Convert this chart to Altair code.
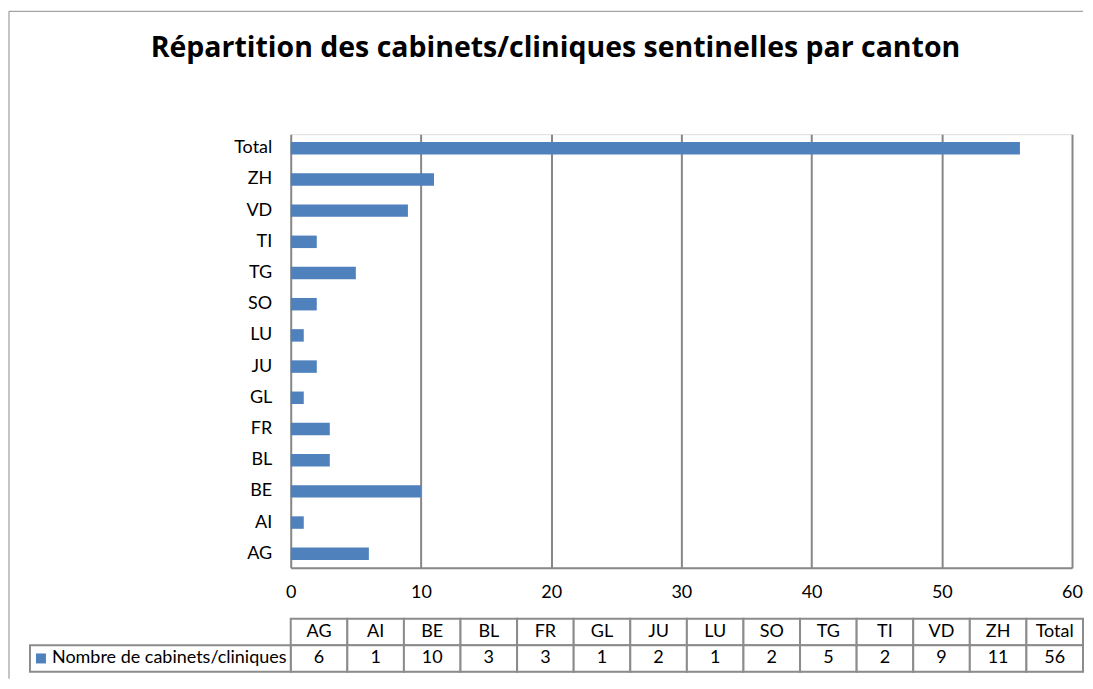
import altair as alt
import pandas as pd

# ---- data ----
cantons = ["AG", "AI", "BE", "BL", "FR", "GL", "JU", "LU", "SO", "TG", "TI", "VD", "ZH", "Total"]
values = [6, 1, 10, 3, 3, 1, 2, 1, 2, 5, 2, 9, 11, 56]
series_name = "Nombre de cabinets/cliniques"
title_text = "Répartition des cabinets/cliniques sentinelles par canton"
x_ticks = [0, 10, 20, 30, 40, 50, 60]

FONT = "Lato"
TFONT = "Open Sans"
GRID = "#878787"
BORDER = "#8c8c8c"
BLUE = "#4F81BD"
W, H = 782, 434
TW, TH = 793, 53
FS = 18

df = pd.DataFrame({"canton": cantons, "value": values})

# ---- main bar chart ----
bars = alt.Chart(df).mark_bar(color=BLUE).encode(
    x=alt.X("value:Q",
            scale=alt.Scale(domain=[0, 60], nice=False),
            axis=alt.Axis(values=x_ticks, title=None, grid=True, gridColor=GRID,
                          gridWidth=2, domainColor=GRID, domainWidth=2, ticks=False,
                          labelPadding=16, labelFontSize=FS, labelFont=FONT,
                          labelColor="#000000", labelFlush=False)),
    y=alt.Y("canton:N", sort=cantons[::-1],
            scale=alt.Scale(paddingInner=0.6, paddingOuter=0.25),
            axis=alt.Axis(title=None, ticks=False, domain=False, labelPadding=19,
                          labelFontSize=FS, labelFont=FONT, labelColor="#000000")),
    tooltip=["canton", "value"],
)

title_df = pd.DataFrame({"t": [title_text]})
title = alt.Chart(title_df).mark_text(
    font=TFONT, fontSize=28.5, fontWeight="bold", align="center",
    baseline="alphabetic", color="#000000"
).encode(x=alt.value(265), y=alt.value(-77), text="t:N")

frame_df = pd.DataFrame({"k": [0]})
top_border = alt.Chart(frame_df).mark_rule(color=BORDER, strokeWidth=1).encode(
    x=alt.value(-282), x2=alt.value(793), y=alt.value(-123), y2=alt.value(-123))
left_border = alt.Chart(frame_df).mark_rule(color=BORDER, strokeWidth=1).encode(
    x=alt.value(-282), x2=alt.value(-282), y=alt.value(-123), y2=alt.value(545))

top = alt.layer(bars, title, top_border, left_border).properties(width=W, height=H)

# ---- data table ----
rows = []
for c, v in zip(cantons, values):
    rows.append({"canton": c, "row": "h", "txt": c})
    rows.append({"canton": c, "row": "v", "txt": str(v)})
tdf = pd.DataFrame(rows)

xs = alt.X("canton:N", sort=cantons, scale=alt.Scale(paddingInner=0, paddingOuter=0), axis=None)
ys = alt.Y("row:N", sort=["h", "v"], scale=alt.Scale(paddingInner=0, paddingOuter=0), axis=None)

cells = alt.Chart(tdf).mark_rect(fill="white", stroke=BORDER, strokeWidth=2).encode(x=xs, y=ys)
cell_txt = alt.Chart(tdf).mark_text(font=FONT, fontSize=FS, color="#000000").encode(
    x=xs, y=ys, text="txt:N")

lab_df = pd.DataFrame({"row": ["v"], "txt": [series_name]})
lab_cell = alt.Chart(lab_df).mark_rect(fill="white", stroke=BORDER, strokeWidth=2).encode(
    x=alt.value(-261), x2=alt.value(0), y=ys)
lab_sym = alt.Chart(lab_df).mark_square(color=BLUE, opacity=1, size=100).encode(
    x=alt.value(-250), y=ys)
lab_txt = alt.Chart(lab_df).mark_text(font=FONT, fontSize=FS, align="left", color="#000000").encode(
    x=alt.value(-239), y=ys, text="txt:N")

table = alt.layer(cells, cell_txt, lab_cell, lab_sym, lab_txt).properties(width=TW, height=TH)

chart = alt.vconcat(top, table, spacing=51, bounds="flush").properties(
    padding={"left": 0, "top": 2, "right": 0, "bottom": 0}
).configure_view(stroke=None).configure(background="white")

chart.save("out.html", embed_options={"renderer": "svg", "actions": False})
